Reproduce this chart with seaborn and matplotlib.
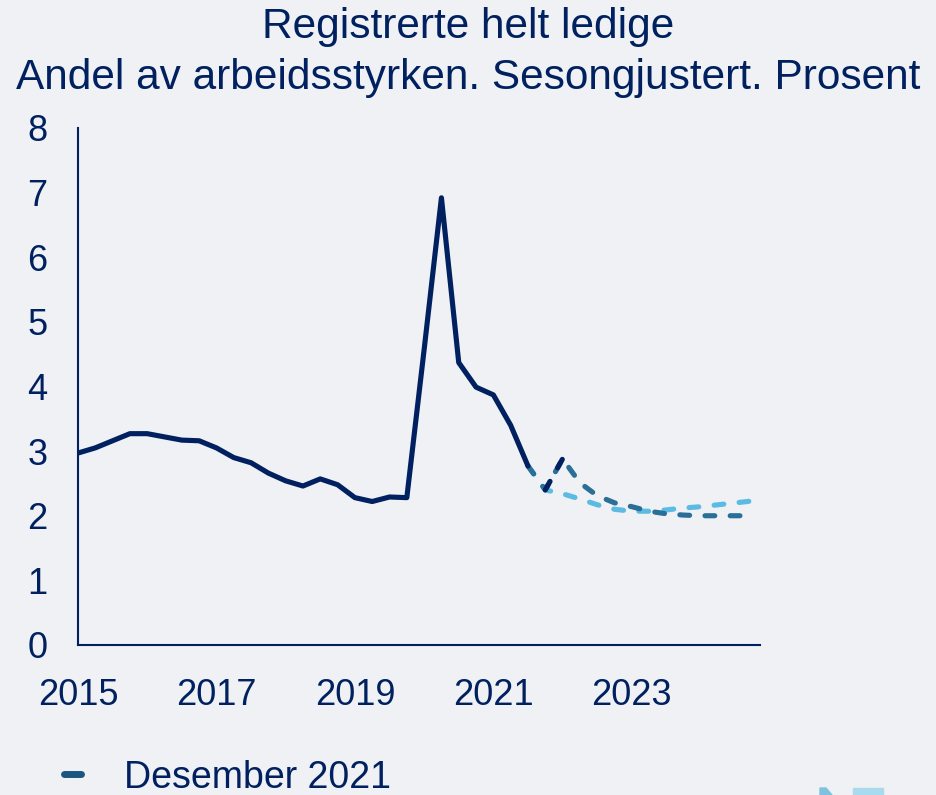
import numpy as np
import pandas as pd
import matplotlib
matplotlib.use("Agg")
import matplotlib.pyplot as plt
import seaborn as sns
from matplotlib.lines import Line2D
from matplotlib.patches import Polygon, Rectangle

# ---- data ----
start_year = 2015.0
actual = [2.97, 3.05, 3.16, 3.27, 3.27, 3.22, 3.17, 3.16, 3.05, 2.90, 2.82, 2.66,
          2.54, 2.46, 2.57, 2.48, 2.28, 2.22, 2.29, 2.28, 4.57, 6.92, 4.37, 3.99,
          3.87, 3.40, 2.77]
proj_start = 2021.5
desember_2021 = [2.77, 2.40, 2.88, 2.51, 2.31, 2.20, 2.14, 2.07, 2.03, 2.01,
                 2.00, 2.00, 2.00, 2.00]
proj_light = [2.77, 2.40, 2.34, 2.26, 2.17, 2.10, 2.07, 2.07, 2.09, 2.12,
              2.14, 2.17, 2.20, 2.23]
navy_dash_start = 2021.75
navy_dash = [2.40, 2.88]
x_ticks = [2015, 2017, 2019, 2021, 2023]
y_ticks = [0, 1, 2, 3, 4, 5, 6, 7, 8]
title_lines = ["Registrerte helt ledige",
               "Andel av arbeidsstyrken. Sesongjustert. Prosent"]
legend_label = "Desember 2021"

def quarters(start, n):
    return [start + 0.25 * i for i in range(n)]

df_act = pd.DataFrame({"x": quarters(start_year, len(actual)), "y": actual})
df_dec = pd.DataFrame({"x": quarters(proj_start, len(desember_2021)), "y": desember_2021})
df_lb = pd.DataFrame({"x": quarters(proj_start, len(proj_light)), "y": proj_light})
df_nd = pd.DataFrame({"x": quarters(navy_dash_start, len(navy_dash)), "y": navy_dash})

# ---- style ----
bg = "#eff1f4"
navy = "#002060"
teal = "#2a6f97"
light = "#5bbbe3"
sns.set_theme(style="white")
plt.rcParams["font.family"] = ["Liberation Sans", "DejaVu Sans"]
plt.rcParams["axes.facecolor"] = bg
plt.rcParams["figure.facecolor"] = bg

fig = plt.figure(figsize=(9.37, 7.95), dpi=100)
ax = fig.add_axes([0.0832, 0.1887, 0.7278, 0.6503])

lw = 3.7
dash = (1.9, 3.0)
sns.lineplot(data=df_lb, x="x", y="y", ax=ax, color=light, linewidth=lw,
             dashes=False, legend=False)
ax.lines[-1].set_dashes(dash)
ax.lines[-1].set_dash_capstyle("round")
sns.lineplot(data=df_dec, x="x", y="y", ax=ax, color=teal, linewidth=lw,
             dashes=False, legend=False)
ax.lines[-1].set_dashes(dash)
ax.lines[-1].set_dash_capstyle("round")
sns.lineplot(data=df_nd, x="x", y="y", ax=ax, color=navy, linewidth=lw,
             dashes=False, legend=False)
ax.lines[-1].set_dashes(dash)
ax.lines[-1].set_dash_capstyle("round")
sns.lineplot(data=df_act, x="x", y="y", ax=ax, color=navy, linewidth=lw,
             legend=False)
ax.lines[-1].set_solid_capstyle("round")
ax.lines[-1].set_solid_joinstyle("round")

ax.set_xlim(2015, 2024.85)
ax.set_ylim(0, 8)
ax.set_xticks(x_ticks)
ax.set_yticks(y_ticks)
ax.set_xlabel("")
ax.set_ylabel("")
for s in ["top", "right"]:
    ax.spines[s].set_visible(False)
for s in ["left", "bottom"]:
    ax.spines[s].set_color(navy)
    ax.spines[s].set_linewidth(1.5)
ax.tick_params(axis="both", direction="in", length=7.5, width=1.3,
               colors=navy, labelsize=26, labelcolor=navy)
ax.tick_params(axis="y", pad=22)
ax.tick_params(axis="x", pad=24)

fig.text(0.5, 0.966, title_lines[0], ha="center", va="center",
         fontsize=30.5, color=navy)
fig.text(0.5, 0.902, title_lines[1], ha="center", va="center",
         fontsize=30.5, color=navy)

h = Line2D([0], [0], color="#1d5580", linewidth=5, solid_capstyle="round")
leg = fig.legend([h], [legend_label], loc="center left",
                 bbox_to_anchor=(0.068, 0.022), frameon=False,
                 fontsize=27, handlelength=0.45, handletextpad=1.15,
                 labelcolor=navy, borderaxespad=0, borderpad=0)

# partial logo fragment at bottom right
fig.patches.append(Polygon([[820 / 937, 0], [820 / 937, 7 / 795], [826 / 937, 7 / 795],
                            [832 / 937, 0]], closed=True, transform=fig.transFigure,
                           color="#7ec3de", zorder=5))
fig.patches.append(Rectangle((853 / 937, 0), 30 / 937, 7 / 795,
                             transform=fig.transFigure, color="#a9daee", zorder=5))

fig.savefig("out.png", dpi=100, facecolor=bg)
